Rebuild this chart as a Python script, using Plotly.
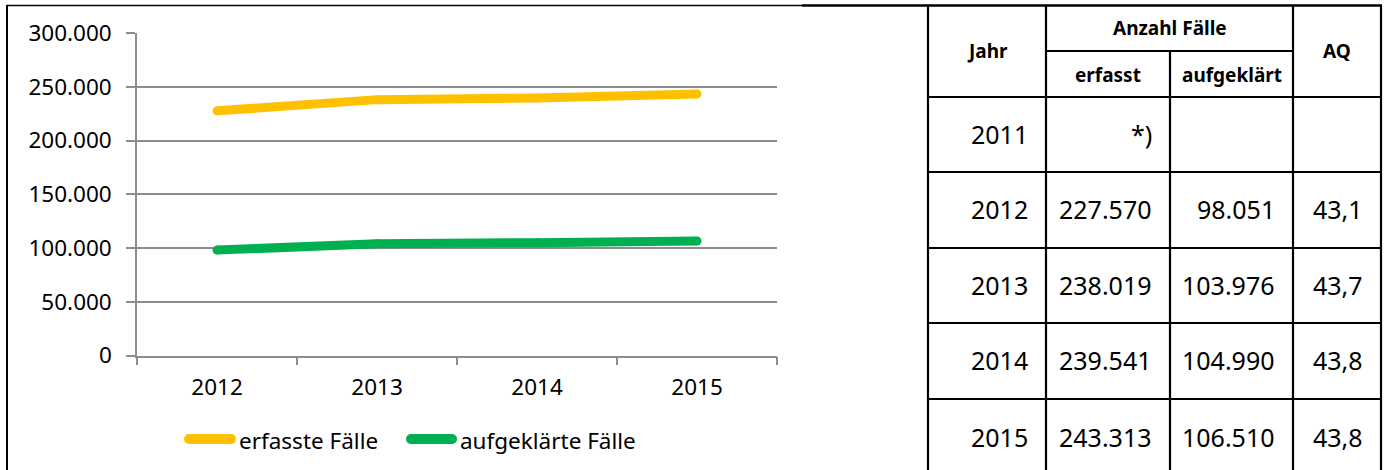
import plotly.graph_objects as go

# ---------------- data ----------------
years = ["2012", "2013", "2014", "2015"]
erfasste = [227570, 238019, 239541, 243313]
aufgeklaerte = [98051, 103976, 104990, 106510]

table_years = ["2011", "2012", "2013", "2014", "2015"]
table_erfasst = ["*)", 227570, 238019, 239541, 243313]
table_aufgeklaert = [None, 98051, 103976, 104990, 106510]
table_aq = [None, 43.1, 43.7, 43.8, 43.8]

series_names = ["erfasste Fälle", "aufgeklärte Fälle"]
colors = ["#FFC000", "#00B050"]

# ---------------- layout constants (pixels) ----------------
W, H = 1387, 470
FONT = "Noto Sans"
CHART_FS = 22.5


def px(x):
    return x / W


def py(y):
    return 1 - y / H


fig = go.Figure()
for name, vals, col in zip(series_names, [erfasste, aufgeklaerte], colors):
    fig.add_trace(go.Scatter(
        x=years, y=vals, name=name, mode="lines+markers",
        line=dict(color=col, width=9),
        marker=dict(color=col, size=9),
        showlegend=False, hoverinfo="x+y",
    ))

shapes = []
annotations = []

# chart frame
shapes.append(dict(type="line", xref="paper", yref="paper", x0=px(7), x1=px(7),
                   y0=py(5), y1=py(472), line=dict(color="black", width=2)))
shapes.append(dict(type="line", xref="paper", yref="paper", x0=px(7), x1=px(802),
                   y0=py(5.5), y1=py(5.5), line=dict(color="black", width=1.5)))
shapes.append(dict(type="line", xref="paper", yref="paper", x0=px(802), x1=px(1382),
                   y0=py(5.5), y1=py(5.5), line=dict(color="black", width=2.5)))

# manual legend
leg_items = [(184, 236, 237), (406, 457, 458)]
for (xa, xb, xt), name, col in zip(leg_items, series_names, colors):
    yc = 439
    r = 5
    shapes.append(dict(type="line", xref="paper", yref="paper",
                       x0=px(xa + r), x1=px(xb - r), y0=py(yc), y1=py(yc),
                       line=dict(color=col, width=10)))
    for cx in (xa + r, xb - r):
        shapes.append(dict(type="circle", xref="paper", yref="paper",
                           x0=px(cx - r), x1=px(cx + r), y0=py(yc + r), y1=py(yc - r),
                           fillcolor=col, line=dict(width=0)))
    annotations.append(dict(xref="paper", yref="paper", x=px(xt), y=py(yc + 1),
                            xanchor="left", yanchor="middle", showarrow=False,
                            text=name, font=dict(family=FONT, size=CHART_FS, color="black")))

# ---------------- table ----------------
col_edges = [928, 1046, 1170, 1293, 1381]
hdr_top, hdr_mid, hdr_bot = 5, 51, 97
row_edges = [97, 172, 248, 323, 399, 474]
lw = 2.2


def vline(x, y0, y1):
    shapes.append(dict(type="line", xref="paper", yref="paper", x0=px(x), x1=px(x),
                       y0=py(y0), y1=py(y1), line=dict(color="black", width=lw)))


def hline(y, x0, x1):
    shapes.append(dict(type="line", xref="paper", yref="paper", x0=px(x0), x1=px(x1),
                       y0=py(y), y1=py(y), line=dict(color="black", width=lw)))


for i, x in enumerate(col_edges):
    if i == 2:
        vline(x, hdr_mid, 474)
    else:
        vline(x, hdr_top, 474)
hline(hdr_mid, col_edges[1], col_edges[3])
for y in row_edges[:-1]:
    hline(y, col_edges[0], col_edges[-1])


def text(x, y, t, anchor="center", bold=False, size=22):
    annotations.append(dict(xref="paper", yref="paper", x=px(x), y=py(y),
                            xanchor=anchor, yanchor="middle", showarrow=False,
                            text=("<b>%s</b>" % t) if bold else t,
                            font=dict(family=FONT, size=size, color="black")))


def cx(i):
    return (col_edges[i] + col_edges[i + 1]) / 2


hs = 19
text(cx(0), (hdr_top + hdr_bot) / 2, "Jahr", bold=True, size=hs)
text((col_edges[1] + col_edges[3]) / 2, (hdr_top + hdr_mid) / 2, "Anzahl Fälle", bold=True, size=hs)
text(cx(1), (hdr_mid + hdr_bot) / 2 + 1, "erfasst", bold=True, size=hs)
text(cx(2), (hdr_mid + hdr_bot) / 2 + 1, "aufgeklärt", bold=True, size=hs)
text(cx(3), (hdr_top + hdr_bot) / 2, "AQ", bold=True, size=hs)


def fmt_int(v):
    if v is None:
        return ""
    if isinstance(v, str):
        return v
    return f"{v:,}".replace(",", ".")


def fmt_dec(v):
    if v is None:
        return ""
    return f"{v:.1f}".replace(".", ",")


pad = 16
for r, (yr, e, a, q) in enumerate(zip(table_years, table_erfasst, table_aufgeklaert, table_aq)):
    yc = (row_edges[r] + row_edges[r + 1]) / 2 - 1
    if r == len(table_years) - 1:
        yc = 437
    cells = [yr, fmt_int(e), fmt_int(a), fmt_dec(q)]
    for c, t in enumerate(cells):
        if t:
            text(col_edges[c + 1] - pad, yc, t, anchor="right", size=25)

fig.update_layout(
    template="none",
    width=W, height=H,
    margin=dict(l=0, r=0, t=0, b=0, pad=0, autoexpand=False),
    paper_bgcolor="white", plot_bgcolor="white",
    separators=",.",
    font=dict(family=FONT, size=CHART_FS, color="black"),
    shapes=shapes, annotations=annotations,
    showlegend=False,
    hovermode=False,
    xaxis=dict(
        type="category", categoryorder="array", categoryarray=years,
        range=[-0.5, 3.5], domain=[px(137), px(777)],
        automargin=False,
        showline=True, linecolor="#8c8c8c", linewidth=1.5,
        ticks="outside", ticklen=8, tickcolor="#8c8c8c", tickwidth=1.5,
        tickson="boundaries", showgrid=False,
        tickfont=dict(family=FONT, size=CHART_FS, color="black"),
        ticklabelstandoff=11,
    ),
    yaxis=dict(
        range=[0, 300000], domain=[py(355.5), py(33)],
        automargin=False,
        dtick=50000, tickformat=",d",
        showgrid=True, gridcolor="#8c8c8c", gridwidth=1.5,
        showline=True, linecolor="#8c8c8c", linewidth=1.5,
        ticks="outside", ticklen=9, tickcolor="#8c8c8c", tickwidth=1.5,
        zeroline=False,
        tickfont=dict(family=FONT, size=CHART_FS, color="black"),
        ticklabelstandoff=10,
    ),
)

fig.write_html("out.html", config={"displayModeBar": False},
               post_script="document.body.style.margin='0';")
